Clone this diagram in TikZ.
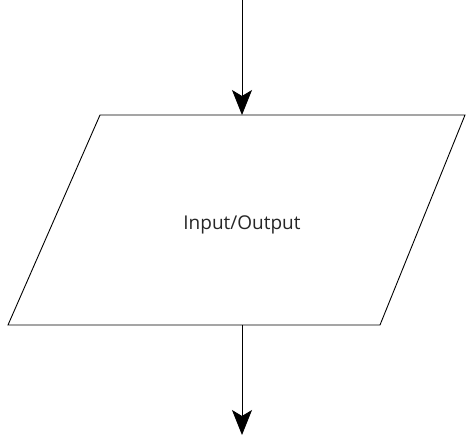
\documentclass[tikz,border=0pt]{standalone}
\usepackage{fontspec}
\setmainfont{Open Sans}
\usetikzlibrary{arrows.meta}
\tikzset{
  flowline/.style={line width=0.9pt, draw=black},
  flowarrow/.style={flowline, -{Stealth[length=25pt, width=20pt, inset=6pt]}},
  iolabel/.style={font=\fontsize{19}{23}\selectfont, text=black!85, inner sep=0pt},
}
\begin{document}
\begin{tikzpicture}[x=1pt, y=-1pt]
  \useasboundingbox (0,0) rectangle (467,436);
  % parallelogram corners
  \coordinate (tl) at (100,115);
  \coordinate (tr) at (465,115);
  \coordinate (br) at (380,325);
  \coordinate (bl) at (8,325);
  \draw[flowline] (tl) -- (tr) -- (br) -- (bl) -- cycle;
  \node[iolabel] (io) at (242,225) {Input/Output};
  % entry and exit points of the flow
  \coordinate (in) at (242,0);
  \coordinate (ioTop) at (242,115);
  \coordinate (ioBot) at (242,325);
  \coordinate (out) at (242,435);
  \draw[flowarrow] (in) -- (ioTop);
  \draw[flowarrow] (ioBot) -- (out);
\end{tikzpicture}
\end{document}
